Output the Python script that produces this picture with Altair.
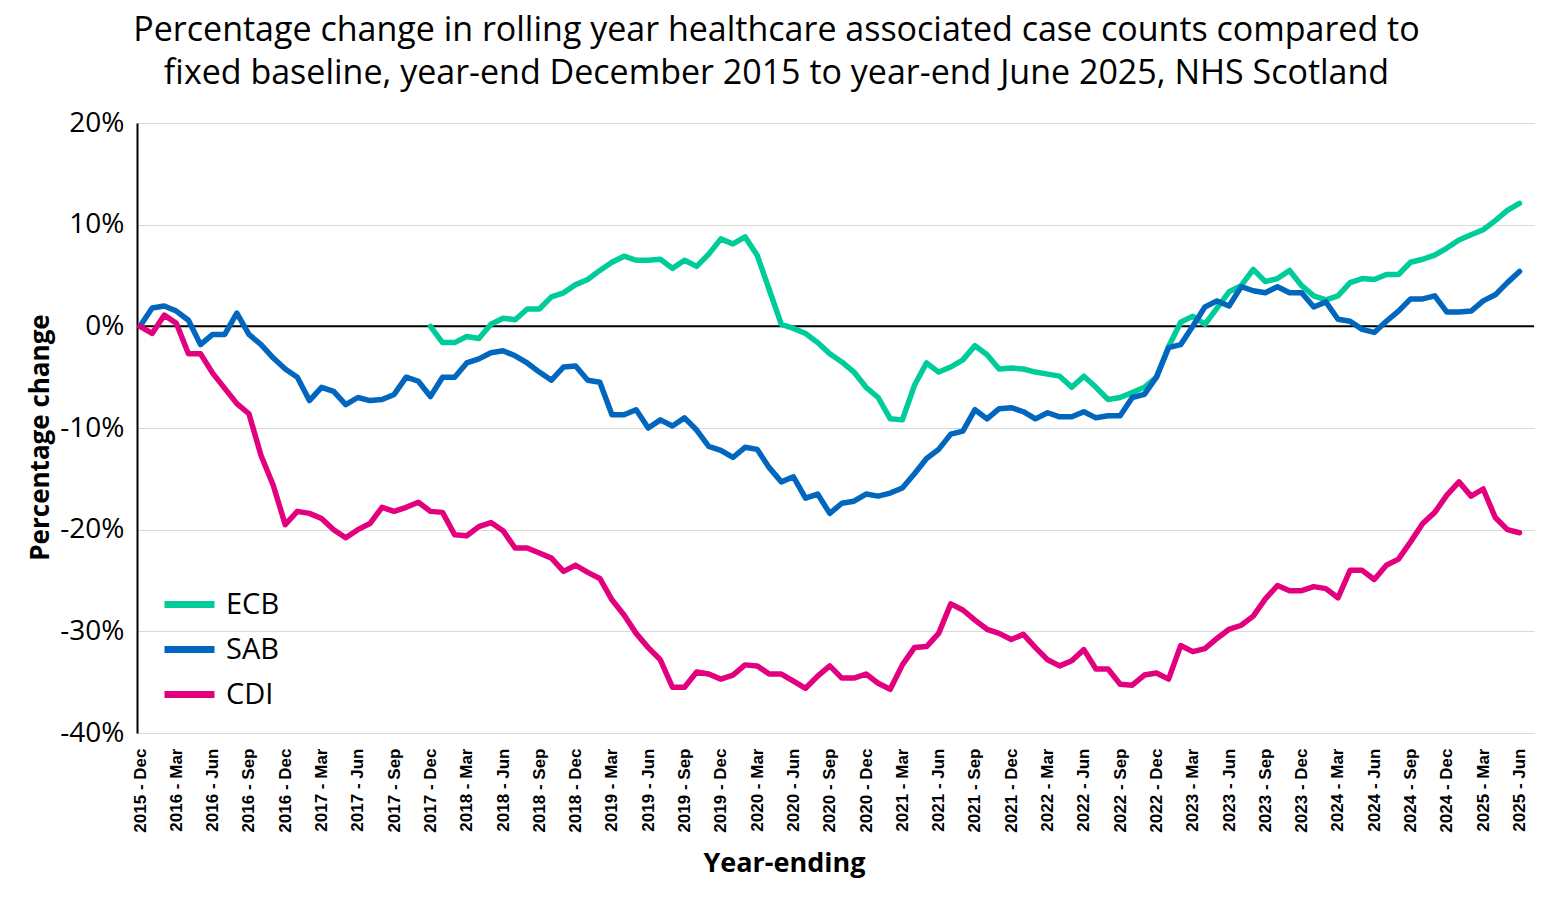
import altair as alt
import pandas as pd

month_names = ["Jan", "Feb", "Mar", "Apr", "May", "Jun",
               "Jul", "Aug", "Sep", "Oct", "Nov", "Dec"]
period_labels = []
yr, mo = 2015, 11
for _ in range(115):
    period_labels.append(f"{yr} - {month_names[mo]}")
    mo += 1
    if mo == 12:
        mo = 0
        yr += 1

series_names = ["ECB", "SAB", "CDI"]
series_colors = ["#00CC99", "#0066BE", "#E3007E"]

ecb = [None] * 24 + [
    0.0, -1.6, -1.6, -1.0, -1.2, 0.2, 0.8, 0.65, 1.7, 1.7,
    2.9, 3.3, 4.1, 4.6, 5.5, 6.3, 6.9, 6.5, 6.5, 6.6,
    5.7, 6.5, 5.9, 7.1, 8.6, 8.1, 8.8, 7.0, 3.6, 0.2,
    -0.2, -0.7, -1.6, -2.7, -3.5, -4.5, -6.0, -7.0, -9.1, -9.2,
    -5.8, -3.6, -4.5, -4.0, -3.3, -1.9, -2.8, -4.2, -4.1, -4.2,
    -4.5, -4.7, -4.9, -6.0, -4.9, -6.0, -7.2, -7.0, -6.5, -6.0,
    -5.0, -2.0, 0.4, 1.0, 0.2, 1.8, 3.4, 4.0, 5.6, 4.4,
    4.7, 5.5, 4.0, 3.0, 2.6, 3.0, 4.3, 4.7, 4.6, 5.1,
    5.1, 6.3, 6.6, 7.0, 7.7, 8.5, 9.0, 9.5, 10.4, 11.4,
    12.1,
]

sab = [
    0.0, 1.8, 2.0, 1.5, 0.6, -1.8, -0.8, -0.8, 1.3, -0.8,
    -1.8, -3.1, -4.2, -5.0, -7.3, -6.0, -6.4, -7.7, -7.0, -7.3,
    -7.2, -6.7, -5.0, -5.4, -6.9, -5.0, -5.0, -3.6, -3.2, -2.6,
    -2.4, -2.9, -3.6, -4.5, -5.3, -4.0, -3.9, -5.3, -5.5, -8.7,
    -8.7, -8.2, -10.0, -9.2, -9.8, -9.0, -10.2, -11.8, -12.2, -12.9,
    -11.9, -12.1, -13.9, -15.3, -14.8, -16.9, -16.5, -18.4, -17.4, -17.2,
    -16.5, -16.7, -16.4, -15.9, -14.5, -13.0, -12.1, -10.6, -10.3, -8.2,
    -9.1, -8.1, -8.0, -8.4, -9.1, -8.5, -8.9, -8.9, -8.4, -9.0,
    -8.8, -8.8, -7.0, -6.7, -5.0, -2.1, -1.8, 0.0, 1.9, 2.5,
    2.0, 3.9, 3.5, 3.3, 3.9, 3.3, 3.3, 1.9, 2.4, 0.7,
    0.5, -0.3, -0.6, 0.5, 1.5, 2.7, 2.7, 3.0, 1.4, 1.4,
    1.5, 2.5, 3.1, 4.3, 5.4,
]

cdi = [
    0.0, -0.7, 1.1, 0.3, -2.7, -2.7, -4.6, -6.1, -7.6, -8.6,
    -12.7, -15.6, -19.5, -18.2, -18.4, -18.9, -20.0, -20.8, -20.0, -19.4,
    -17.8, -18.2, -17.8, -17.3, -18.2, -18.3, -20.5, -20.6, -19.7, -19.3,
    -20.1, -21.8, -21.8, -22.3, -22.8, -24.1, -23.5, -24.2, -24.8, -26.9,
    -28.4, -30.2, -31.6, -32.8, -35.5, -35.5, -34.0, -34.2, -34.7, -34.3,
    -33.3, -33.4, -34.2, -34.2, -34.9, -35.6, -34.4, -33.4, -34.6, -34.6,
    -34.2, -35.1, -35.7, -33.3, -31.6, -31.5, -30.2, -27.3, -27.9, -28.9,
    -29.8, -30.2, -30.8, -30.3, -31.6, -32.8, -33.4, -32.9, -31.8, -33.7,
    -33.7, -35.2, -35.3, -34.3, -34.1, -34.7, -31.4, -32.0, -31.7, -30.7,
    -29.8, -29.4, -28.5, -26.8, -25.5, -26.0, -26.0, -25.6, -25.8, -26.7,
    -24.0, -24.0, -24.9, -23.5, -22.9, -21.2, -19.4, -18.3, -16.6, -15.3,
    -16.7, -16.0, -18.8, -20.0, -20.3,
]

y_ticks = [-40, -30, -20, -10, 0, 10, 20]
x_ticks = list(range(0, 115, 3))

rows = []
for name, vals in zip(series_names, [ecb, sab, cdi]):
    for i, v in enumerate(vals):
        if v is not None:
            rows.append({"idx": i, "period": period_labels[i], "series": name, "value": v})
df = pd.DataFrame(rows)

label_js = "[" + ",".join("'" + p + "'" for p in period_labels) + "]"

x_enc = alt.X(
    "idx:Q",
    scale=alt.Scale(domain=[-0.25, 115.2], nice=False, zero=False),
    axis=alt.Axis(
        values=x_ticks,
        labelExpr=label_js + "[datum.value]",
        labelAngle=270,
        labelAlign="right",
        labelBaseline="middle",
        labelFontSize=17,
        labelFontWeight="bold",
        labelFont="Liberation Sans",
        labelColor="black",
        labelPadding=15,
        labelFlush=False,
        labelOverlap=False,
        ticks=False,
        domain=False,
        grid=False,
        title="Year-ending",
        titleFont="Open Sans",
        titleFontSize=27,
        titleFontWeight="bold",
        titleColor="black",
        titleX=647,
        titleY=130,
        titleAlign="center",
        titleBaseline="middle",
        titleAngle=0,
    ),
)

y_scale = alt.Scale(domain=[-40, 20], nice=False)
y_enc = alt.Y(
    "value:Q",
    scale=y_scale,
    axis=alt.Axis(
        values=y_ticks,
        labelExpr="datum.value + '%'",
        labelFont="Open Sans",
        labelFontSize=28,
        labelColor="black",
        labelPadding=13,
        tickSize=0,
        domainColor="black",
        domainWidth=2,
        gridColor="#D9D9D9",
        gridWidth=1,
        title="Percentage change",
        titleFont="Open Sans",
        titleFontSize=26,
        titleFontWeight="bold",
        titleColor="black",
        titleX=-97,
        titleY=314,
        titleAngle=270,
        titleAlign="center",
        titleBaseline="middle",
    ),
)

zero_rule = alt.Chart(pd.DataFrame({"z": [0]})).mark_rule(
    color="black", strokeWidth=2
).encode(y=alt.Y("z:Q", scale=y_scale))

lines = alt.Chart(df).mark_line(
    strokeWidth=5.5, strokeJoin="round", strokeCap="round"
).encode(
    x=x_enc,
    y=y_enc,
    color=alt.Color(
        "series:N",
        scale=alt.Scale(domain=series_names, range=series_colors),
        legend=alt.Legend(
            title=None,
            orient="none",
            legendX=24,
            legendY=453,
            direction="vertical",
            symbolType="stroke",
            symbolSize=2500,
            symbolStrokeWidth=7,
            labelFont="Open Sans",
            labelFontSize=29,
            labelColor="black",
            labelOffset=8,
            rowPadding=1,
            padding=0,
        ),
    ),
    detail="series:N",
)

chart = alt.layer(zero_rule, lines).properties(
    width=1397,
    height=610,
    title=alt.TitleParams(
        text=[
            "Percentage change in rolling year healthcare associated case counts compared to",
            "fixed baseline, year-end December 2015 to year-end June 2025, NHS Scotland",
        ],
        font="Open Sans",
        fontSize=34,
        fontWeight="normal",
        color="black",
        lineHeight=43,
        anchor="middle",
        dx=-59,
        offset=18,
    ),
    autosize=alt.AutoSizeParams(type="none"),
    padding={"left": 137, "top": 123, "right": 28, "bottom": 183},
    background="white",
).configure_view(stroke=None)

chart.save("out.html", embed_options={"renderer": "svg", "actions": False})
